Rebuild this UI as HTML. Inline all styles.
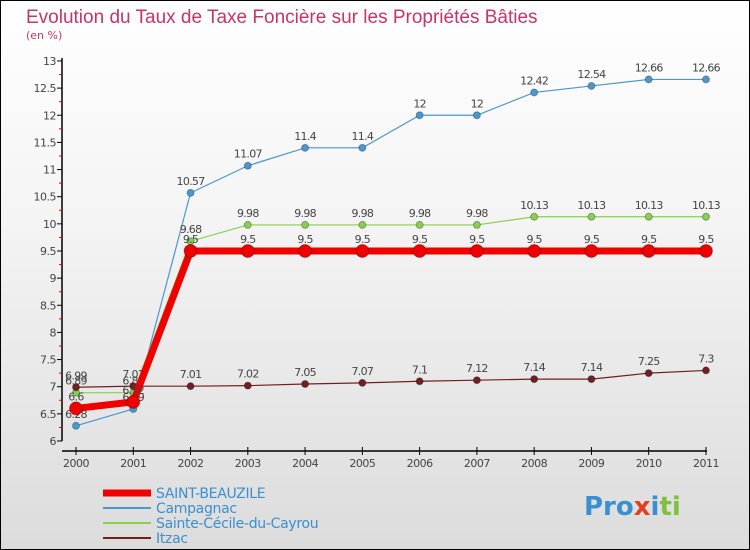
<!DOCTYPE html>
<html><head><meta charset="utf-8"><style>
body{margin:0}
#c{width:748px;height:548px;border:1px solid #000;background:linear-gradient(#fff 0%,#f4f4f4 40%,#dcdcdc 100%);position:relative;overflow:hidden;font-family:"DejaVu Sans","Liberation Sans",sans-serif}
</style></head><body>
<div id="c">
<svg id="s" width="748" height="548" xmlns="http://www.w3.org/2000/svg">
<text x="25" y="22" font-size="19" fill="#c8336a" font-family="Liberation Sans, sans-serif">Evolution du Taux de Taxe Foncière sur les Propriétés Bâties</text>
<text x="25" y="38" font-size="11" fill="#c8336a">(en %)</text>
<g id="ax"></g><g id="marks"></g><g id="leg"></g>
<text x="583" y="514" font-size="26" font-weight="bold" fill="#f0a020"><tspan fill="#3a8fd0">Pro</tspan><tspan fill="#e04020">x</tspan><tspan fill="#3a8fd0">i</tspan><tspan fill="#80c040">ti</tspan></text>
</svg></div>
<script>
const years=[2000,2001,2002,2003,2004,2005,2006,2007,2008,2009,2010,2011];
const yTicks=[6,6.5,7,7.5,8,8.5,9,9.5,10,10.5,11,11.5,12,12.5,13];
const saint=[6.6,6.72,9.5,9.5,9.5,9.5,9.5,9.5,9.5,9.5,9.5,9.5];
const campagnac=[6.28,6.59,10.57,11.07,11.4,11.4,12,12,12.42,12.54,12.66,12.66];
const cecile=[6.89,6.89,9.68,9.98,9.98,9.98,9.98,9.98,10.13,10.13,10.13,10.13];
const itzac=[6.99,7.01,7.01,7.02,7.05,7.07,7.1,7.12,7.14,7.14,7.25,7.3];
const NS="http://www.w3.org/2000/svg";
const X=i=>75+i*57.27, Y=v=>440-(v-6)*54.29;
function mk(t,a,p){const e=document.createElementNS(NS,t);for(const k in a)e.setAttribute(k,a[k]);(p||document.getElementById('marks')).appendChild(e);return e;}
const ax=document.getElementById('ax');
let e=mk('line',{x1:61,y1:57,x2:61,y2:440,stroke:'#000','stroke-width':1.5},ax);

e=mk('line',{x1:61,y1:450,x2:706,y2:450,stroke:'#000','stroke-width':1.5},ax);

yTicks.forEach(v=>{
 mk('line',{x1:56,y1:Y(v),x2:61,y2:Y(v),stroke:'#000'},ax);
 if(v<13)mk('line',{x1:58,y1:Y(v+0.25),x2:61,y2:Y(v+0.25),stroke:'#e00'},ax);
 const t=mk('text',{x:55,y:Y(v)+4,'font-size':11,fill:'#444','text-anchor':'end','letter-spacing':'-0.5'},ax);t.textContent=v;
 
});
years.forEach((y,i)=>{
 mk('line',{x1:X(i),y1:446,x2:X(i),y2:454,stroke:'#000'},ax);
 const t=mk('text',{x:X(i),y:466,'font-size':11,fill:'#444','text-anchor':'middle','letter-spacing':'-0.5'},ax);t.textContent=y;
 
});
function series(d,col,w,r,name,lab){
 const l=mk('polyline',{points:d.map((v,i)=>X(i)+','+Y(v)).join(' '),fill:'none',stroke:col,'stroke-width':w});
 
 d.forEach((v,i)=>{const c=mk('circle',{cx:X(i),cy:Y(v),r:r,fill:col,stroke:'rgba(0,0,0,0.3)'});
  
  if(lab){const t=mk('text',{x:X(i),y:Y(v)-8,'font-size':11,fill:'#444','text-anchor':'middle','letter-spacing':'-0.7'});t.textContent=v;
  }
 });
}
series(campagnac,'#4a98d0',1.2,3.5,'campagnac',true);
series(cecile,'#88d050',1.2,3.5,'sainte-cecile',true);
series(itzac,'#702020',1.2,3.5,'itzac',true);
series(saint,'#f00000',7,6.5,'saint-beauzile',true);
const lg=document.getElementById('leg');
[['SAINT-BEAUZILE','#f00000',7],['Campagnac','#4a98d0',2],['Sainte-Cécile-du-Cayrou','#88d050',2],['Itzac','#702020',2]].forEach((s,i)=>{
 const y=492+i*15;
 const l=mk('line',{x1:102,y1:y,x2:150,y2:y,stroke:s[1],'stroke-width':s[2]},lg);
 
 const t=mk('text',{x:155,y:y+5,'font-size':14,fill:'#3a8fd0','letter-spacing':'-0.3'},lg);t.textContent=s[0];
 
});
</script>
</body></html>
